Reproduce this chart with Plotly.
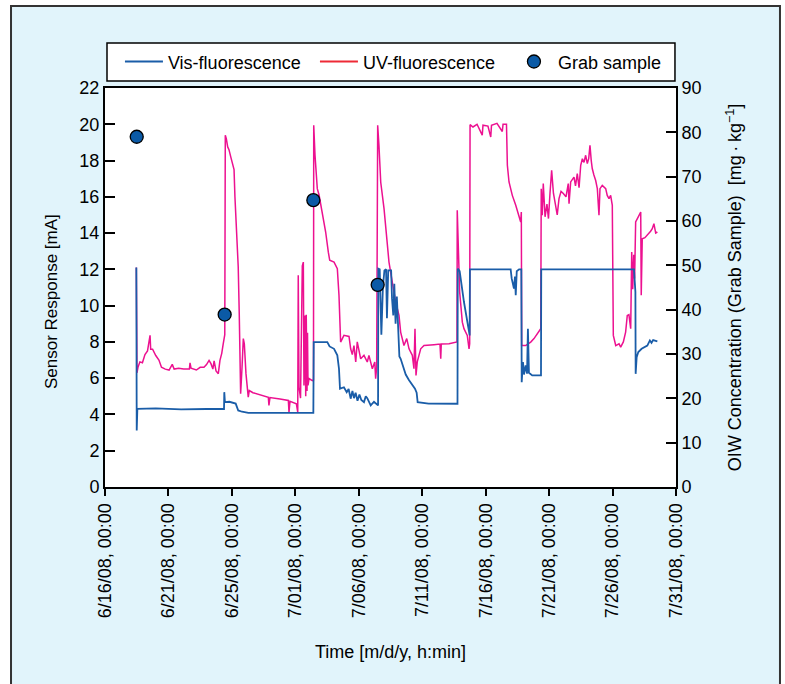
import pandas as pd
import plotly.graph_objects as go

START = pd.Timestamp("2008-06-16")

# ---- data (days after 6/16/08 00:00, sensor response in mA) ----
uv_day = [2.47, 2.49, 2.52, 2.6, 2.75, 2.95, 3.15, 3.35, 3.55, 3.6, 3.75, 4.0, 4.25, 4.45, 4.75, 5.05, 5.3,
          5.45, 5.8, 6.2, 6.65, 6.7, 6.78, 7.2, 7.5, 7.8, 8.0, 8.2, 8.35, 8.5, 8.6, 8.75, 8.85,
          8.93, 9.06, 9.2, 9.32, 9.44, 9.48, 9.56, 9.67, 9.77, 9.91, 10.06, 10.17, 10.24, 10.38, 10.5,
          10.58, 10.64, 10.69, 10.8, 10.9, 10.98, 11.11, 11.29, 11.37, 11.66, 12.22, 12.87, 12.92, 13.0,
          13.79, 14.45, 14.5, 14.58, 15.08, 15.19, 15.23, 15.29, 15.41, 15.55, 15.63, 15.68, 15.76, 15.82,
          15.86, 15.92, 15.96, 16.0, 16.08, 16.34, 16.43, 16.45, 16.55, 16.73, 16.87, 17.12, 17.39, 17.6,
          17.71, 18.05, 18.31, 18.44, 18.57, 18.83, 19.23, 19.36, 19.49, 19.62, 19.76, 19.88, 20.02, 20.15,
          20.41, 20.67, 20.8, 21.07, 21.26, 21.33, 21.41, 21.49, 21.59, 21.73, 21.99, 22.12, 22.38, 22.64,
          22.91, 23.17, 23.3, 23.56, 23.78, 23.96, 24.22, 24.35, 24.43, 24.51, 24.61, 24.88, 25.14, 25.93,
          26.4, 26.46, 26.5, 27.11, 27.64, 27.74, 27.76, 27.84, 27.95, 28.16, 28.29, 28.55, 28.69, 28.74,
          28.77, 29.0, 29.32, 29.73, 29.79, 30.18, 30.4, 30.46, 30.89, 31.31, 31.37, 31.64, 31.71, 31.84,
          32.1, 32.37, 32.63, 32.76, 32.81, 32.84, 33.15, 33.55, 33.81, 34.07, 34.34, 34.38, 34.46, 34.54,
          34.68, 34.83, 34.95, 35.07, 35.2, 35.34, 35.46, 35.64, 35.78, 35.94, 36.12, 36.33, 36.51, 36.57,
          36.7, 36.96, 37.08, 37.22, 37.36, 37.49, 37.62, 37.75, 37.88, 38.01, 38.12, 38.22, 38.32, 38.4,
          38.53, 38.67, 38.8, 38.87, 38.93, 39.01, 39.19, 39.46, 39.58, 39.72, 39.85, 39.98, 40.01, 40.06,
          40.25, 40.51, 40.64, 40.85, 41.03, 41.16, 41.29, 41.43, 41.51, 41.59, 41.67, 41.74, 41.82, 41.95,
          42.08, 42.22, 42.26, 42.34, 42.55, 42.74, 43.0, 43.13, 43.26, 43.4, 43.53]
uv_ma = [12.1, 9.0, 6.3, 6.6, 6.9, 6.85, 7.3, 7.5, 8.36, 7.6, 7.6, 7.25, 7.0, 6.6, 6.5, 6.45, 6.76,
         6.5, 6.55, 6.5, 6.5, 6.85, 6.55, 6.45, 6.6, 6.6, 6.75, 6.98, 6.8, 6.5, 6.95, 6.4, 6.33,
         6.25, 6.98, 7.37, 7.9, 8.4, 19.4, 19.2, 18.75, 18.6, 18.2, 17.83, 17.5, 16.0, 14.15, 12.13,
         9.56, 5.88, 5.14, 6.6, 8.18, 7.9, 6.25, 4.95, 5.32, 5.2, 5.1, 4.95, 4.5, 4.93,
         4.85, 4.77, 4.13, 4.72, 4.59, 4.13, 11.67, 5.5, 4.9, 12.2, 12.4, 5.6, 9.46, 5.0,
         9.5, 5.3, 8.5, 5.6, 5.98, 5.87, 5.9, 19.94, 18.3, 16.45, 16.1, 15.2, 14.06, 12.95,
         12.5, 12.4, 12.04, 10.57, 7.99, 8.36, 8.3, 7.62, 7.3, 7.8, 6.89, 8.0, 7.6, 7.07,
         7.26, 6.89, 7.26, 6.52, 6.89, 5.97, 6.6, 19.94, 18.84, 16.8, 15.35, 14.43, 12.4, 11.3,
         10.2, 9.46, 8.54, 7.8, 8.18, 7.62, 7.26, 6.52, 8.73, 6.15, 6.9, 7.62, 7.8, 7.85,
         7.88, 7.07, 7.88, 7.9, 7.99, 8.0, 15.26, 12.59, 10.75, 9.09, 8.73, 8.36, 7.62, 7.9,
         19.98, 19.85, 20.0, 19.4, 19.95, 19.9, 19.3, 19.95, 20.05, 19.6, 20.0, 20.0, 17.74, 16.82,
         16.08, 15.53, 14.98, 14.61, 15.16, 7.8, 7.8, 7.99, 8.18, 8.45, 8.73, 16.45, 14.98, 16.73,
         14.9, 15.6, 14.8, 16.2, 17.46, 16.2, 15.7, 15.0, 15.9, 16.3, 16.18, 16.0, 16.73, 15.62,
         16.82, 17.09, 16.6, 17.28, 16.5, 17.74, 18.1, 17.9, 18.29, 17.83, 18.1, 18.84, 18.0, 17.56,
         17.2, 16.9, 16.45, 15.8, 14.98, 16.45, 16.63, 16.45, 16.08, 15.9, 16.08, 15.53, 9.09, 8.36,
         7.8, 7.9, 7.71, 8.0, 8.54, 9.46, 9.5, 8.73, 12.95, 10.9, 12.8, 11.49, 14.61, 14.8,
         14.9, 15.16, 10.57, 13.69, 13.75, 13.88, 14.1, 14.24, 14.52, 14.0, 14.06]

vis_day = [2.47, 2.5, 2.53, 2.55, 4.0, 6.0, 8.0, 9.38, 9.4, 9.45, 9.8, 10.3, 10.5, 10.8, 11.3, 16.42,
           16.45, 17.52, 17.7, 18.05, 18.31, 18.44, 18.52, 18.83, 19.05, 19.2, 19.36, 19.5, 19.62, 19.75,
           19.9, 20.05, 20.2, 20.41, 20.55, 20.67, 20.94, 21.2, 21.52, 21.54, 21.65, 21.78, 21.9, 22.02,
           22.15, 22.22, 22.32, 22.55, 22.62, 22.72, 22.8, 22.9, 23.0, 23.1, 23.2, 23.3, 23.5, 23.7,
           23.95, 24.17, 24.43, 24.56, 24.64, 25.5, 27.78, 27.8, 27.95, 28.29, 28.55, 28.74, 28.76,
           31.97, 32.05, 32.23, 32.31, 32.37, 32.45, 32.63, 32.81, 32.84, 32.94, 33.02, 33.15, 33.26,
           33.33, 33.41, 33.67, 34.36, 34.38, 41.69, 41.8, 41.82, 41.9, 42.03, 42.29, 42.55, 42.74,
           42.94, 43.07, 43.2, 43.53]
vis_ma = [12.1, 3.12, 4.35, 4.31, 4.33, 4.28, 4.3, 4.3, 5.23, 4.68, 4.7, 4.6, 4.22, 4.15, 4.09, 4.09,
          7.99, 7.99, 7.75, 7.62, 7.26, 6.52, 5.42, 5.5, 5.23, 5.4, 4.87, 5.3, 4.9, 5.2,
          4.75, 5.1, 4.8, 4.68, 5.0, 4.9, 4.5, 4.7, 4.5, 12.04, 12.0, 8.4, 11.0, 11.94,
          12.0, 9.3, 11.94, 11.94, 10.4, 9.46, 11.2, 9.0, 10.5, 8.3, 7.2, 7.07, 6.6, 6.2,
          5.9, 5.69, 5.42, 5.2, 4.68, 4.6, 4.59, 12.04, 11.9, 10.2, 9.09, 8.36, 12.0,
          12.0, 11.5, 10.94, 11.6, 10.57, 11.9, 12.0, 12.0, 5.78, 6.89, 6.2, 6.7, 6.25,
          8.73, 6.3, 6.15, 6.15, 12.0, 12.0, 10.75, 6.24, 7.16, 7.44, 7.62, 7.7, 7.8,
          8.08, 7.95, 8.1, 8.03]

grab_day = [2.50, 9.43, 16.42, 21.49]
grab_oiw = [79.0, 38.9, 64.7, 45.6]   # mg/kg, right axis

tick_days = [0, 5, 10, 15, 20, 25, 30, 35, 40, 45]
tick_text = ["6/16/08, 00:00", "6/21/08, 00:00", "6/25/08, 00:00", "7/01/08, 00:00",
             "7/06/08, 00:00", "7/11/08, 00:00", "7/16/08, 00:00", "7/21/08, 00:00",
             "7/26/08, 00:00", "7/31/08, 00:00"]


def to_time(days):
    return [START + pd.Timedelta(days=d) for d in days]


BLUE = "#1a5da8"
PINK = "#ec1190"
RED = "#ee2a36"
FONT = "Arial, Liberation Sans, sans-serif"

fig = go.Figure()
fig.add_trace(go.Scatter(x=to_time(uv_day), y=uv_ma, mode="lines", name="UV-fluorescence",
                         line=dict(color=PINK, width=1.5), showlegend=False))
fig.add_trace(go.Scatter(x=to_time(vis_day), y=vis_ma, mode="lines", name="Vis-fluorescence",
                         line=dict(color=BLUE, width=1.8), legendrank=1))
fig.add_trace(go.Scatter(x=[None], y=[None], mode="lines", name="UV-fluorescence",
                         line=dict(color=RED, width=2), legendrank=2))
fig.add_trace(go.Scatter(x=to_time(grab_day), y=grab_oiw, mode="markers", name="Grab sample",
                         yaxis="y2", legendrank=3,
                         marker=dict(size=13, color="#0b5aa6", line=dict(color="black", width=1.3))))

fig.update_layout(
    width=785, height=684,
    margin=dict(l=105, r=109, t=88, b=197),
    paper_bgcolor="white", plot_bgcolor="white",
    font=dict(family=FONT, size=18, color="black"),
    showlegend=True,
    legend=dict(orientation="h", x=-0.0001, xanchor="left", y=1.112, yanchor="top",
                bgcolor="rgba(0,0,0,0)", borderwidth=0, indentation=15, itemwidth=38,
                font=dict(size=18), entrywidth=127, traceorder="normal"),
    xaxis=dict(type="date", range=[START, START + pd.Timedelta(days=45)],
               tickvals=to_time(tick_days), ticktext=tick_text, tickangle=-90,
               ticks="outside", ticklen=7, tickwidth=1.5, tickcolor="black",
               showline=True, linecolor="black", linewidth=2, mirror=True,
               showgrid=False, zeroline=False, tickfont=dict(size=18),
               title=dict(text="Time [m/d/y, h:min]", font=dict(size=18), standoff=28)),
    yaxis=dict(range=[0, 22], tick0=0, dtick=2, ticks="inside", ticklen=10, tickwidth=1.5,
               tickcolor="black", showline=True, linecolor="black", linewidth=2,
               showgrid=False, zeroline=False, tickfont=dict(size=18)),
    yaxis2=dict(range=[0, 90], tick0=0, dtick=10, overlaying="y", side="right",
                ticks="inside", ticklen=10, tickwidth=1.5, tickcolor="black",
                showline=True, linecolor="black", linewidth=2, showgrid=False, zeroline=False,
                tickfont=dict(size=18),
                title=dict(text="OIW Concentration (Grab Sample)  [mg\u2009·\u2009kg<sup>\u22121</sup>]",
                           font=dict(size=18), standoff=28)),
    annotations=[
        dict(text="Sensor Response [mA]", xref="paper", yref="paper", x=-0.0928, y=0.4637,
             textangle=-90, showarrow=False, font=dict(size=17), xanchor="center", yanchor="middle"),
    ],
    shapes=[
        dict(type="rect", xref="paper", yref="paper", x0=-0.1646, x1=1.1821, y0=-0.52, y1=1.2055,
             fillcolor="#e1f4fb", line=dict(color="#333333", width=2), layer="below"),
        dict(type="rect", xref="paper", yref="paper", x0=0, x1=1, y0=0, y1=1,
             fillcolor="white", line=dict(width=0), layer="below"),
        # legend frame
        dict(type="rect", xref="paper", yref="paper", x0=0.0035, x1=0.9982, y0=1.0175, y1=1.1128,
             fillcolor="white", line=dict(color="black", width=1.5), layer="below"),
    ],
)

fig.write_html("out.html")
